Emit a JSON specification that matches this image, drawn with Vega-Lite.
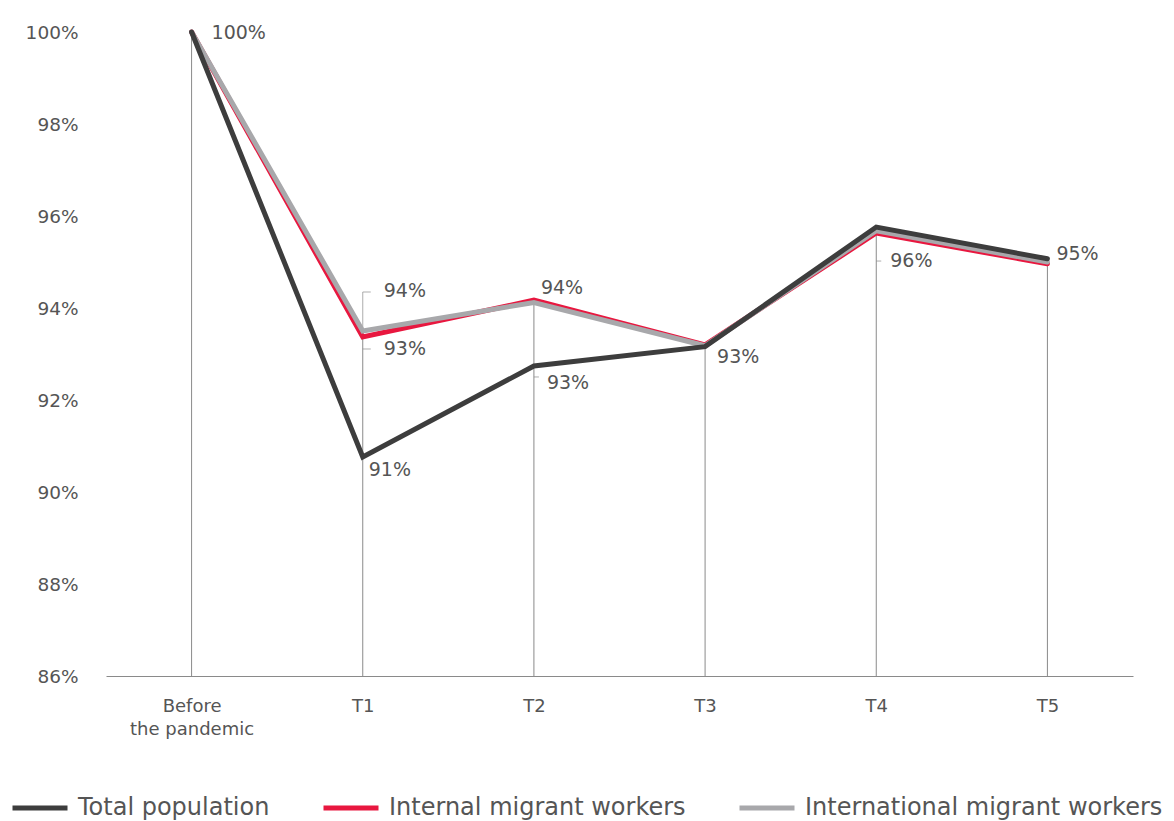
{
  "$schema": "https://vega.github.io/schema/vega-lite/v6.json",
  "width": 1027,
  "height": 644,
  "autosize": {"type": "none"},
  "padding": {"left": 106, "top": 32, "right": 41, "bottom": 145},
  "background": "white",
  "config": {
    "view": {"stroke": null},
    "font": "DejaVu Sans",
    "axis": {"labelFont": "DejaVu Sans", "labelColor": "#555555", "grid": false, "ticks": false, "title": null}
  },
  "datasets": {
    "main": [
      {"period": "Before the pandemic", "series": "Internal migrant workers", "value": 100},
      {"period": "T1", "series": "Internal migrant workers", "value": 93.37},
      {"period": "T2", "series": "Internal migrant workers", "value": 94.17},
      {"period": "T3", "series": "Internal migrant workers", "value": 93.2},
      {"period": "T4", "series": "Internal migrant workers", "value": 95.63},
      {"period": "T5", "series": "Internal migrant workers", "value": 94.96},
      {"period": "Before the pandemic", "series": "International migrant workers", "value": 100},
      {"period": "T1", "series": "International migrant workers", "value": 93.5},
      {"period": "T2", "series": "International migrant workers", "value": 94.12},
      {"period": "T3", "series": "International migrant workers", "value": 93.18},
      {"period": "T4", "series": "International migrant workers", "value": 95.68},
      {"period": "T5", "series": "International migrant workers", "value": 95.0},
      {"period": "Before the pandemic", "series": "Total population", "value": 100},
      {"period": "T1", "series": "Total population", "value": 90.76},
      {"period": "T2", "series": "Total population", "value": 92.74},
      {"period": "T3", "series": "Total population", "value": 93.16},
      {"period": "T4", "series": "Total population", "value": 95.76},
      {"period": "T5", "series": "Total population", "value": 95.07}
    ],
    "labels": [
      {"id": "t0", "period": "Before the pandemic", "value": 100, "text": "100%"},
      {"id": "t1a", "period": "T1", "value": 93.5, "text": "94%"},
      {"id": "t1b", "period": "T1", "value": 93.37, "text": "93%"},
      {"id": "t1c", "period": "T1", "value": 90.76, "text": "91%"},
      {"id": "t2a", "period": "T2", "value": 94.17, "text": "94%"},
      {"id": "t2b", "period": "T2", "value": 92.74, "text": "93%"},
      {"id": "t3", "period": "T3", "value": 93.2, "text": "93%"},
      {"id": "t4", "period": "T4", "value": 95.76, "text": "96%"},
      {"id": "t5", "period": "T5", "value": 95.07, "text": "95%"}
    ]
  },
  "encoding": {
    "x": {
      "field": "period", "type": "nominal",
      "sort": ["Before the pandemic", "T1", "T2", "T3", "T4", "T5"],
      "scale": {"type": "point", "padding": 0.5},
      "axis": {
        "labelAngle": 0, "labelFontSize": 18, "labelPadding": 21, "labelLineHeight": 23,
        "domainColor": "#8a8a8a", "domainWidth": 1,
        "labelExpr": "datum.value == 'Before the pandemic' ? ['Before', 'the pandemic'] : datum.value"
      }
    },
    "y": {
      "field": "value", "type": "quantitative",
      "scale": {"domain": [86, 100], "nice": false, "zero": false},
      "axis": {"values": [86, 88, 90, 92, 94, 96, 98, 100], "labelFontSize": 18.5, "labelPadding": 28, "domain": false, "labelExpr": "datum.value + '%'"}
    }
  },
  "layer": [
    {
      "data": {"name": "main"},
      "mark": {"type": "rule", "color": "#8a8a8a", "strokeWidth": 1},
      "encoding": {
        "y": {"aggregate": "max", "field": "value", "type": "quantitative"},
        "y2": {"datum": 86}
      }
    },
    {
      "data": {"name": "labels"},
      "transform": [{"filter": "datum.id == 't1a'"}],
      "mark": {"type": "tick", "orient": "vertical", "size": 39, "thickness": 1, "yOffset": -19.5, "color": "#8a8a8a"}
    },
    {
      "data": {"name": "labels"},
      "transform": [{"filter": "datum.id == 't1a'"}],
      "mark": {"type": "tick", "orient": "horizontal", "size": 8, "thickness": 1, "xOffset": 4, "yOffset": -39, "color": "#8a8a8a"}
    },
    {
      "data": {"name": "labels"},
      "transform": [{"filter": "datum.id == 't1b'"}],
      "mark": {"type": "tick", "orient": "horizontal", "size": 8, "thickness": 1, "xOffset": 4, "yOffset": 12, "color": "#8a8a8a"}
    },
    {
      "data": {"name": "labels"},
      "transform": [{"filter": "datum.id == 't2b'"}],
      "mark": {"type": "tick", "orient": "horizontal", "size": 5, "thickness": 1, "xOffset": 2.5, "yOffset": 11, "color": "#8a8a8a"}
    },
    {
      "data": {"name": "labels"},
      "transform": [{"filter": "datum.id == 't4'"}],
      "mark": {"type": "tick", "orient": "horizontal", "size": 5, "thickness": 1, "xOffset": 2.5, "yOffset": 34, "color": "#8a8a8a"}
    },
    {
      "data": {"name": "main"},
      "mark": {"type": "line", "strokeWidth": 5, "strokeCap": "round", "strokeJoin": "miter"},
      "encoding": {
        "color": {
          "field": "series", "type": "nominal",
          "scale": {
            "domain": ["Total population", "Internal migrant workers", "International migrant workers"],
            "range": ["#3d3d3d", "#e8173f", "#a8a8ab"]
          },
          "legend": {
            "title": null, "orient": "none", "direction": "horizontal",
            "legendX": -96, "legendY": 746,
            "symbolType": "stroke", "symbolSize": 3025, "symbolStrokeWidth": 5,
            "labelFont": "DejaVu Sans", "labelFontSize": 24, "labelColor": "#555555",
            "labelOffset": 8, "columnPadding": 43, "labelLimit": 500
          }
        },
        "order": {"field": "period"}
      }
    },
    {
      "data": {"name": "labels"},
      "transform": [{"filter": "datum.id == 't0'"}],
      "mark": {"type": "text", "align": "left", "baseline": "middle", "dx": 20, "dy": 1, "fontSize": 19, "color": "#555555"},
      "encoding": {"text": {"field": "text"}}
    },
    {
      "data": {"name": "labels"},
      "transform": [{"filter": "datum.id == 't1a'"}],
      "mark": {"type": "text", "align": "left", "baseline": "middle", "dx": 21, "dy": -40, "fontSize": 19, "color": "#555555"},
      "encoding": {"text": {"field": "text"}}
    },
    {
      "data": {"name": "labels"},
      "transform": [{"filter": "datum.id == 't1b'"}],
      "mark": {"type": "text", "align": "left", "baseline": "middle", "dx": 21, "dy": 12, "fontSize": 19, "color": "#555555"},
      "encoding": {"text": {"field": "text"}}
    },
    {
      "data": {"name": "labels"},
      "transform": [{"filter": "datum.id == 't1c'"}],
      "mark": {"type": "text", "align": "left", "baseline": "middle", "dx": 6, "dy": 13, "fontSize": 19, "color": "#555555"},
      "encoding": {"text": {"field": "text"}}
    },
    {
      "data": {"name": "labels"},
      "transform": [{"filter": "datum.id == 't2a'"}],
      "mark": {"type": "text", "align": "left", "baseline": "middle", "dx": 7, "dy": -12, "fontSize": 19, "color": "#555555"},
      "encoding": {"text": {"field": "text"}}
    },
    {
      "data": {"name": "labels"},
      "transform": [{"filter": "datum.id == 't2b'"}],
      "mark": {"type": "text", "align": "left", "baseline": "middle", "dx": 13, "dy": 17, "fontSize": 19, "color": "#555555"},
      "encoding": {"text": {"field": "text"}}
    },
    {
      "data": {"name": "labels"},
      "transform": [{"filter": "datum.id == 't3'"}],
      "mark": {"type": "text", "align": "left", "baseline": "middle", "dx": 12, "dy": 12, "fontSize": 19, "color": "#555555"},
      "encoding": {"text": {"field": "text"}}
    },
    {
      "data": {"name": "labels"},
      "transform": [{"filter": "datum.id == 't4'"}],
      "mark": {"type": "text", "align": "left", "baseline": "middle", "dx": 14, "dy": 34, "fontSize": 19, "color": "#555555"},
      "encoding": {"text": {"field": "text"}}
    },
    {
      "data": {"name": "labels"},
      "transform": [{"filter": "datum.id == 't5'"}],
      "mark": {"type": "text", "align": "left", "baseline": "middle", "dx": 9, "dy": -5, "fontSize": 19, "color": "#555555"},
      "encoding": {"text": {"field": "text"}}
    }
  ]
}
